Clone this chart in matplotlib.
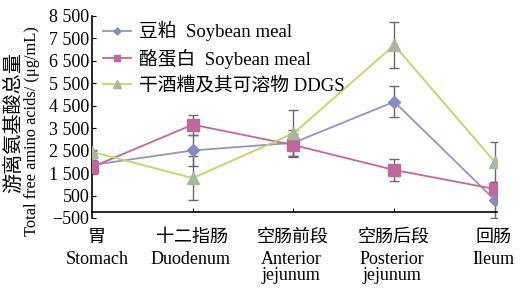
import numpy as np
import matplotlib
matplotlib.use('Agg')
import matplotlib.pyplot as plt
import matplotlib.transforms as mtransforms

plt.rcParams['font.family'] = ['Liberation Serif', 'Noto Sans CJK SC']
plt.rcParams['axes.unicode_minus'] = True

# data
sites_cn = ['胃', '十二指肠', '空肠前段', '空肠后段', '回肠']
sites_en = ['Stomach', 'Duodenum', 'Anterior\njejunum', 'Posterior\njejunum', 'Ileum']
series_names = ['豆粕  Soybean meal', '酪蛋白  Soybean meal', '干酒糟及其可溶物 DDGS']

soybean = [1860, 2510, 2850, 4680, 300]
soybean_err = [300, 700, 580, 700, 800]
casein = [1770, 3660, 2750, 1640, 790]
casein_err = [300, 450, 500, 480, 270]
ddgs = [2450, 1280, 3270, 7200, 1990]
ddgs_err = [100, 1000, 1030, 1030, 900]

yticks = [-500, 500, 1500, 2500, 3500, 4500, 5500, 6500, 7500, 8500]


def main():
    fig = plt.figure(figsize=(5.2, 2.88), dpi=100)
    ax = fig.add_axes([92 / 520, 1 - 218 / 288, 405 / 520, 202 / 288])

    x = np.arange(len(sites_cn))
    styles = [
        (soybean, soybean_err, '#9393c9', 'D', '#8a8ac2', 6),
        (casein, casein_err, '#c9649d', 's', '#c0689c', 8),
        (ddgs, ddgs_err, '#b8da5e', '^', '#aab79c', 9),
    ]
    for (vals, err, lc, mk, mc, ms), name in zip(styles, series_names):
        ax.errorbar(x, vals, yerr=err, fmt='none', ecolor='#6a6a6a',
                    elinewidth=1, capsize=3.5, capthick=1, zorder=2)
        ax.plot(x, vals, color=lc, lw=1.3, marker=mk, markersize=ms,
                markerfacecolor=mc, markeredgecolor=mc, label=name, zorder=3)

    ax.set_xlim(0, 4.02)
    ax.set_ylim(-500, 8500)
    ax.spines['top'].set_visible(False)
    ax.spines['right'].set_visible(False)
    ax.spines['bottom'].set_position(('data', -220))
    ax.spines['left'].set_linewidth(1.2)
    ax.spines['bottom'].set_linewidth(1.2)

    ax.set_yticks(yticks)
    ax.set_yticklabels([('−' if v < 0 else '') + '{:,}'.format(abs(v)).replace(',', ' ')
                        for v in yticks], fontsize=13)
    ax.tick_params(axis='y', direction='in', length=3, pad=2)
    ax.set_xticks(x[1:])
    ax.set_xticklabels([])
    ax.tick_params(axis='x', direction='in', length=3)

    # category labels, Chinese above English
    trans = mtransforms.blended_transform_factory(ax.transData, ax.transAxes)
    for i in x:
        ax.text(i + (0.05 if i == 0 else -0.01), -0.097, sites_cn[i], transform=trans,
                ha='center', va='center', fontsize=13, clip_on=False)
        ax.text(i + (0.05 if i == 0 else -0.02), -0.165, sites_en[i], transform=trans,
                ha='center', va='top', fontsize=13, linespacing=0.92,
                clip_on=False)

    fig.text(15 / 520, 1 - 123 / 288, '游离氨基酸总量', rotation=90,
             ha='center', va='center', fontsize=14.5)
    fig.text(32 / 520, 1 - 131 / 288, 'Total free amino acids/ (μg/mL)',
             rotation=90, ha='center', va='center', fontsize=11.8)

    ax.legend(loc='upper left', bbox_to_anchor=(0.0, 1.03), frameon=False,
              fontsize=13.5, handlelength=1.5, handletextpad=0.4,
              labelspacing=0.4, markerscale=0.6, borderaxespad=0.2)

    fig.savefig('out.png', dpi=100)
    plt.close()


if __name__ == '__main__':
    main()
